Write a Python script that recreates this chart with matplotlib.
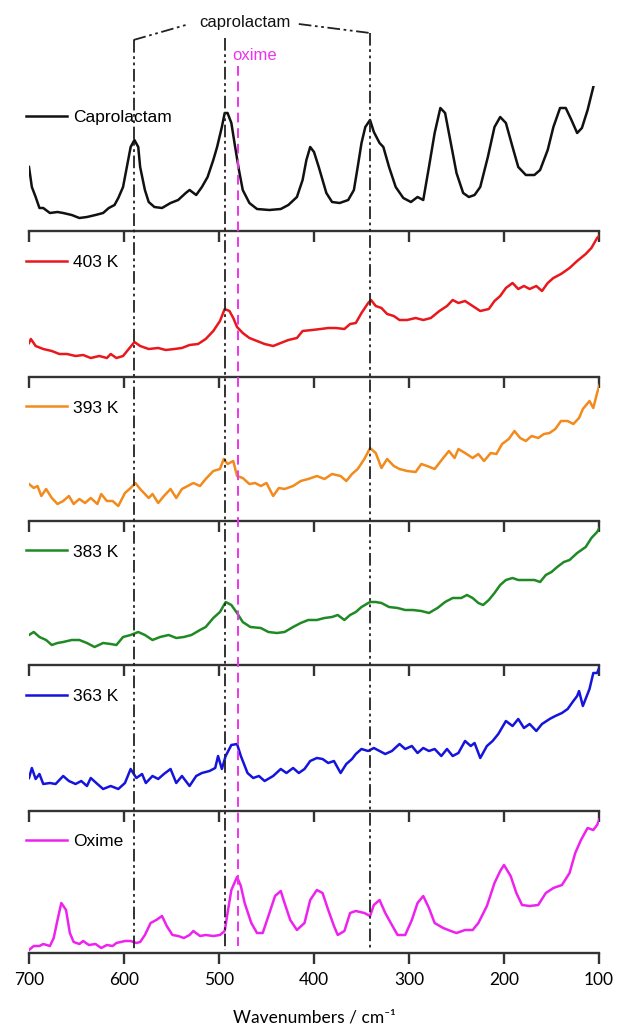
import matplotlib
matplotlib.use('Agg')
import matplotlib.pyplot as plt
from matplotlib.lines import Line2D
from matplotlib.transforms import blended_transform_factory

# ---------------- data (intensity in arbitrary units, per panel) ----------------
cap_wn = [700, 697, 693, 689, 685, 678, 670, 664, 655, 647, 639, 630, 622, 616, 610, 606, 601, 597, 593, 589,
          585, 583, 578, 574, 568, 560, 551, 543, 535, 531, 524, 518, 512, 506, 502, 497, 494, 491, 487, 483,
          479, 475, 468, 460, 447, 435, 427, 418, 412, 408, 404, 400, 395, 391, 387, 381, 373, 364, 358, 354,
          350, 346, 341, 337, 331, 327, 321, 314, 306, 298, 291, 285, 279, 273, 267, 262, 256, 250, 243, 237,
          231, 225, 217, 210, 204, 198, 191, 185, 177, 168, 162, 154, 148, 141, 135, 129, 123, 118, 112, 106]
cap_I = [64, 44, 34, 23, 23, 18, 19, 18, 16, 13, 14, 16, 18, 23, 26, 33, 44, 64, 84, 91,
         84, 64, 41, 29, 24, 23, 28, 31, 38, 41, 36, 44, 54, 71, 84, 104, 118, 118, 108, 84,
         61, 41, 28, 22, 21, 22, 26, 34, 51, 71, 84, 79, 64, 51, 38, 29, 28, 31, 41, 64,
         88, 104, 111, 99, 88, 84, 64, 44, 33, 29, 34, 31, 64, 98, 123, 118, 88, 58, 38, 34,
         36, 44, 74, 104, 114, 108, 84, 64, 56, 56, 61, 81, 104, 123, 123, 111, 98, 103, 121, 144]

k403_wn = [700, 698, 693, 685, 676, 668, 660, 651, 643, 635, 626, 618, 614, 608, 601, 595, 589, 583, 574, 564,
           556, 547, 539, 531, 522, 514, 506, 499, 494, 489, 485, 481, 475, 468, 460, 452, 443, 435, 427, 418,
           412, 402, 393, 385, 377, 368, 362, 356, 350, 343, 340, 335, 329, 323, 316, 310, 302, 293, 285, 277,
           268, 260, 254, 248, 241, 233, 225, 216, 210, 204, 198, 191, 185, 179, 173, 166, 160, 154, 148, 140,
           131, 123, 114, 108, 102, 100]
k403_I = [34, 38, 31, 28, 26, 23, 23, 21, 22, 19, 21, 19, 23, 19, 21, 28, 35, 31, 28, 29,
          27, 28, 29, 32, 33, 38, 46, 56, 68, 66, 59, 50, 44, 39, 36, 33, 31, 34, 37, 39,
          46, 47, 48, 49, 49, 48, 53, 54, 64, 74, 77, 71, 69, 63, 61, 57, 57, 59, 57, 59,
          66, 71, 77, 74, 76, 71, 66, 68, 76, 81, 89, 94, 88, 91, 88, 91, 86, 94, 99, 103,
          109, 116, 123, 129, 139, 141]

k393_wn = [700, 695, 691, 687, 682, 676, 670, 664, 658, 653, 647, 641, 635, 628, 624, 618, 612, 606, 599, 593,
           588, 583, 574, 570, 564, 558, 551, 545, 539, 533, 527, 520, 514, 506, 499, 495, 491, 485, 481, 475,
           468, 462, 456, 450, 443, 437, 431, 422, 414, 406, 397, 389, 381, 372, 366, 360, 354, 347, 341, 335,
           329, 323, 316, 310, 302, 293, 287, 281, 273, 264, 258, 252, 248, 241, 233, 227, 221, 214, 208, 202,
           195, 189, 183, 177, 171, 164, 158, 152, 146, 140, 133, 127, 121, 117, 110, 106, 102, 99]
k393_I = [37, 33, 35, 25, 32, 23, 17, 20, 25, 17, 22, 18, 23, 17, 27, 20, 20, 15, 28, 33,
          38, 32, 23, 27, 18, 25, 32, 23, 32, 35, 38, 35, 42, 50, 52, 62, 57, 60, 45, 43,
          37, 38, 35, 38, 25, 33, 32, 35, 40, 42, 45, 42, 47, 45, 40, 47, 52, 62, 73, 68,
          53, 62, 55, 52, 50, 49, 57, 55, 52, 63, 70, 63, 72, 68, 63, 67, 60, 68, 67, 77,
          82, 90, 83, 80, 85, 83, 87, 88, 92, 100, 100, 97, 103, 112, 120, 113, 128, 137]

k383_wn = [700, 695, 689, 682, 676, 670, 664, 655, 647, 639, 631, 622, 614, 608, 601, 593, 585, 578, 570, 562,
           553, 545, 537, 529, 520, 514, 506, 499, 493, 487, 481, 475, 467, 456, 448, 439, 431, 422, 414, 406,
           397, 389, 381, 375, 368, 362, 356, 350, 341, 335, 329, 321, 312, 304, 296, 287, 279, 270, 262, 254,
           245, 239, 233, 227, 222, 216, 210, 204, 198, 191, 185, 177, 168, 162, 156, 150, 144, 137, 131, 123,
           114, 108, 102, 99]
k383_I = [30, 33, 28, 25, 20, 22, 23, 25, 25, 22, 18, 22, 21, 20, 28, 30, 33, 30, 25, 28,
          30, 27, 28, 30, 35, 38, 47, 53, 63, 60, 52, 43, 38, 37, 33, 32, 33, 38, 42, 45,
          45, 47, 48, 50, 45, 50, 53, 58, 63, 63, 62, 58, 57, 55, 55, 54, 52, 57, 63, 67,
          67, 70, 67, 62, 60, 65, 72, 80, 85, 87, 85, 85, 85, 83, 90, 93, 98, 103, 105, 112,
          118, 127, 133, 138]

k363_wn = [700, 697, 693, 689, 685, 678, 672, 664, 658, 651, 645, 639, 635, 628, 622, 614, 606, 599, 593, 587,
           581, 577, 570, 564, 558, 551, 545, 539, 531, 524, 518, 510, 504, 501, 497, 493, 487, 481, 477, 470,
           464, 458, 452, 443, 435, 429, 422, 416, 410, 404, 397, 391, 385, 379, 372, 366, 360, 356, 350, 343,
           337, 331, 325, 318, 310, 304, 297, 291, 285, 279, 273, 266, 260, 254, 248, 241, 235, 231, 225, 218,
           212, 206, 198, 191, 185, 179, 173, 166, 160, 152, 146, 139, 133, 127, 123, 121, 117, 110, 106, 102, 99]
k363_I = [33, 43, 32, 37, 27, 28, 27, 35, 30, 27, 30, 25, 33, 27, 22, 25, 22, 28, 42, 33,
          37, 28, 35, 32, 37, 42, 28, 35, 25, 35, 38, 40, 43, 55, 42, 55, 66, 67, 55, 38,
          33, 35, 30, 35, 42, 38, 43, 38, 42, 50, 53, 52, 48, 50, 38, 47, 52, 57, 62, 60,
          63, 60, 57, 60, 67, 62, 65, 58, 63, 60, 62, 55, 62, 55, 58, 70, 65, 68, 53, 65,
          70, 77, 90, 85, 92, 83, 87, 80, 87, 92, 95, 98, 102, 110, 115, 120, 105, 122, 138, 138, 145]

ox_wn = [700, 695, 689, 685, 678, 674, 670, 666, 661, 657, 653, 647, 643, 637, 630, 624, 618, 612, 608, 599,
         593, 587, 583, 578, 572, 566, 560, 555, 549, 543, 537, 531, 527, 520, 514, 506, 499, 494, 491, 487,
         481, 477, 473, 466, 460, 454, 448, 441, 435, 431, 425, 418, 410, 404, 397, 391, 385, 379, 375, 368,
         362, 356, 347, 341, 337, 331, 325, 318, 312, 304, 297, 291, 285, 279, 273, 264, 256, 250, 241, 233,
         227, 218, 210, 204, 200, 193, 187, 181, 173, 164, 156, 148, 139, 131, 125, 119, 112, 106, 102, 99]
ox_I = [3, 7, 7, 9, 7, 15, 33, 50, 43, 20, 11, 9, 12, 8, 9, 5, 8, 7, 10, 12,
        12, 10, 11, 18, 30, 33, 37, 27, 18, 17, 15, 18, 22, 17, 18, 17, 18, 22, 40, 63,
        76, 67, 50, 30, 20, 20, 37, 57, 62, 50, 33, 23, 30, 53, 63, 60, 43, 27, 18, 22,
        40, 42, 40, 37, 48, 53, 40, 28, 18, 18, 33, 50, 57, 45, 30, 25, 22, 20, 23, 23,
        30, 47, 70, 82, 88, 77, 60, 48, 47, 48, 60, 65, 68, 80, 100, 113, 125, 123, 128, 135]

labels = ["Caprolactam", "403 K", "393 K", "383 K", "363 K", "Oxime"]
wns = [cap_wn, k403_wn, k393_wn, k383_wn, k363_wn, ox_wn]
ints = [cap_I, k403_I, k393_I, k383_I, k363_I, ox_I]
colors = ["#111111", "#e8181c", "#f28a1c", "#1f8a24", "#1414dc", "#ee22ee"]

caprolactam_bands = [590, 494, 341]
oxime_band = 480
xticks = [700, 600, 500, 400, 300, 200, 100]

# ---------------- figure ----------------
W, H = 617, 1028
fig = plt.figure(figsize=(W / 100, H / 100), dpi=100)
left, right = 29 / W, 599 / W
edges_px = [86, 231, 377, 521, 665, 811, 953]
axes = []
for i in range(6):
    y0 = 1 - edges_px[i + 1] / H
    y1 = 1 - edges_px[i] / H
    ax = fig.add_axes([left, y0, right - left, y1 - y0])
    ax.set_facecolor('none')
    ax.plot(wns[i], ints[i], color=colors[i], lw=1.8, label=labels[i])
    ax.set_xlim(700, 100)
    ax.set_ylim(0, edges_px[i + 1] - edges_px[i])
    for s in ['top', 'left', 'right']:
        ax.spines[s].set_visible(False)
    ax.spines['bottom'].set_color('#333333')
    ax.spines['bottom'].set_linewidth(1.7)
    ax.set_yticks([])
    ax.set_xticks(xticks)
    ax.tick_params(axis='x', direction='out', length=8, width=1.7, color='#333333',
                   labelbottom=(i == 5), labelsize=12.5, pad=6)
    if i == 5:
        for t in ax.get_xticklabels():
            t.set_family(['Lato', 'DejaVu Sans'])
        ax.set_xlabel("Wavenumbers / cm⁻¹", family=['Lato', 'DejaVu Sans'], fontsize=12.5, labelpad=15)
    leg = ax.legend(loc='center left', bbox_to_anchor=(-0.006, 0.785), frameon=False,
                    borderaxespad=0, borderpad=0, handlelength=2.4, handletextpad=0.35,
                    prop={'family': 'Liberation Sans', 'size': 12.5})
    axes.append(ax)

def fy(px):
    return 1 - px / H

tr = blended_transform_factory(axes[-1].transData, fig.transFigure)
dd = (7, 2, 1.5, 2, 1.5, 2)
tops = [40, 38, 33]
for band, top in zip(caprolactam_bands, tops):
    fig.add_artist(Line2D([band, band], [fy(top), fy(950)], transform=tr, color='#222222',
                          lw=1.3, dashes=dd))
fig.add_artist(Line2D([oxime_band, oxime_band], [fy(66), fy(946)], transform=tr, color='#ee33ee',
                      lw=1.4, dashes=(5, 3)))

# bracket
fig.add_artist(Line2D([caprolactam_bands[0], 535], [fy(40), fy(25)], transform=tr, color='#222222',
                      lw=1.3, dashes=dd))
fig.add_artist(Line2D([416, caprolactam_bands[2]], [fy(24), fy(33)], transform=tr, color='#222222',
                      lw=1.3, dashes=dd))
fig.text(473, fy(23), "caprolactam", transform=tr, ha='center', va='center',
         family='Liberation Sans', fontsize=12, color='#111111')
fig.text(463, fy(56), "oxime", transform=tr, ha='center', va='center',
         family='Liberation Sans', fontsize=12, color='#ee33ee')

fig.savefig('out.png', dpi=100, facecolor='white')
